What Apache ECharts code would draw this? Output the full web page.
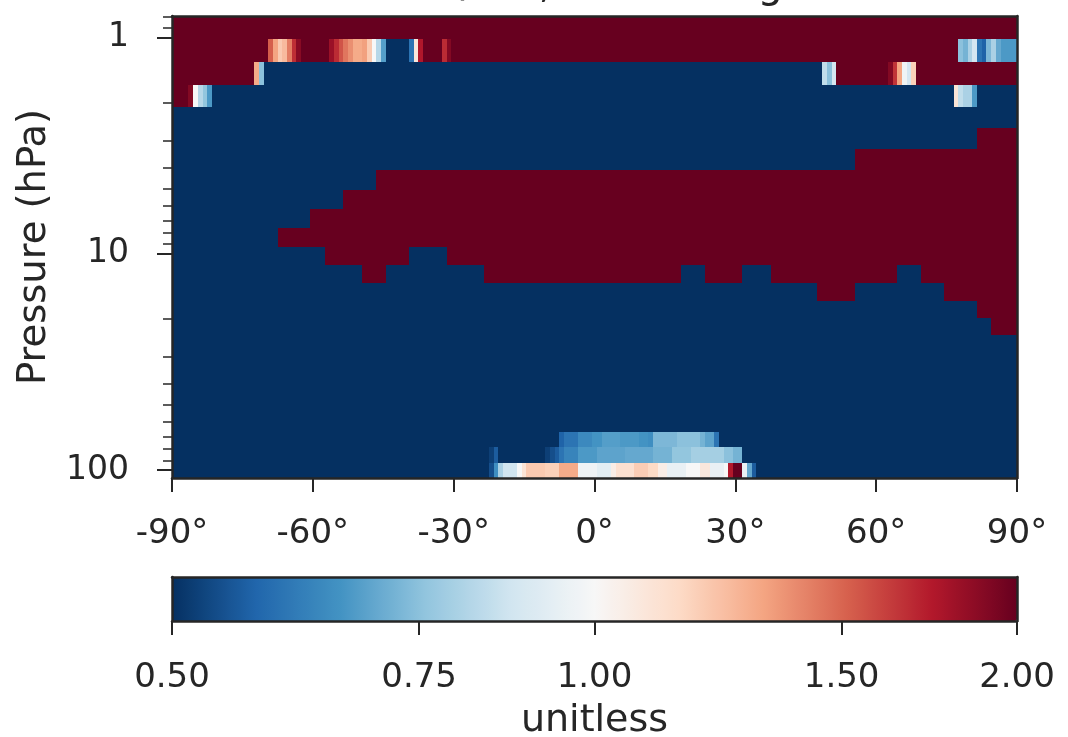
<!DOCTYPE html>
<html><head><meta charset="utf-8">
<script src="https://cdn.jsdelivr.net/npm/echarts@6/dist/echarts.min.js"></script>
<style>html,body{margin:0;padding:0;background:#fff}#c{width:1068px;height:737px}</style>
</head><body><div id="c"></div>
<script>
// Pressure level edges (hPa), top to bottom
const pressureEdges = [0.7951, 1.0194, 1.3005, 1.6508, 2.0850, 2.6202, 3.2764, 4.0766, 5.0468, 6.2168, 7.6198, 9.2929, 11.2769, 13.6434, 16.4571, 19.7916, 23.7304, 28.3678, 33.8100, 40.1754, 47.6439, 56.3879, 66.6034, 78.5123, 92.3657, 108.663];

// Each row: runs of [latFrom, latTo, Dev/Ref ratio]
const row00 = [[-90, 90, 2.0]];
const row01 = [[-90,-69.5,2],[-69.5,-68.5,1.52],[-68.5,-67.5,1.32],[-67.5,-66.5,1.2],[-66.5,-65.5,1.25],[-65.5,-64.5,1.43],[-64.5,-63.5,1.67],[-63.5,-62.5,1.88],[-62.5,-56.5,2],[-56.5,-55.5,1.82],[-55.5,-54.5,1.68],[-54.5,-53.5,1.55],[-53.5,-52.5,1.45],[-52.5,-51.5,1.38],[-51.5,-49.5,1.3],[-49.5,-48.5,1.33],[-48.5,-47.5,1.2],[-47.5,-46.5,1.0],[-46.5,-45.5,0.82],[-45.5,-44.5,0.68],[-44.5,-39.5,0.5],[-39.5,-38.5,0.6],[-38.5,-37.5,1.08],[-37.5,-36.5,1.75],[-36.5,-32.5,2],[-32.5,-31.5,1.68],[-31.5,-30.5,1.9],[-30.5,77.5,2],[77.5,78.5,0.75],[78.5,79.5,0.72],[79.5,80.5,0.8],[80.5,81.5,0.88],[81.5,82.5,0.6],[82.5,83.5,0.57],[83.5,84.5,0.73],[84.5,85.5,0.8],[85.5,86.5,0.7],[86.5,90,0.67]];
const row02 = [[-90,-72.5,2],[-72.5,-71.5,1.3],[-71.5,-70.5,0.75],[-70.5,48.5,0.5],[48.5,49.5,0.84],[49.5,50.5,0.75],[50.5,51.5,0.88],[51.5,62.5,2],[62.5,63.5,1.9],[63.5,64.5,1.65],[64.5,65.5,1.32],[65.5,66.5,0.97],[66.5,67.5,0.88],[67.5,68.5,1.18],[68.5,90,2]];
const row03 = [[-90,-86.5,2],[-86.5,-85.5,1.9],[-85.5,-84.5,1.0],[-84.5,-83.5,0.82],[-83.5,-82.5,0.76],[-82.5,-81.5,0.67],[-81.5,76.5,0.5],[76.5,77.5,1.1],[77.5,78.5,0.84],[78.5,80.5,0.8],[80.5,81.5,0.67],[81.5,90,0.5]];
const row04 = [[-90,90,0.5]];
const row05 = [[-90,81.5,0.5],[81.5,90,2]];
const row06 = [[-90,55.5,0.5],[55.5,90,2]];
const row07 = [[-90,-46.5,0.5],[-46.5,90,2]];
const row08 = [[-90,-53.5,0.5],[-53.5,90,2]];
const row09 = [[-90,-60.5,0.5],[-60.5,90,2]];
const row10 = [[-90,-67.5,0.5],[-67.5,90,2]];
const row11 = [[-90,-57.5,0.5],[-57.5,-39.5,2],[-39.5,-31.5,0.5],[-31.5,90,2]];
const row12 = [[-90,-49.5,0.5],[-49.5,-44.5,2],[-44.5,-23.5,0.5],[-23.5,18.5,2],[18.5,23.5,0.5],[23.5,31.5,2],[31.5,37.5,0.5],[37.5,64.5,2],[64.5,69.5,0.5],[69.5,90,2]];
const row13 = [[-90,47.5,0.5],[47.5,55.5,2],[55.5,74.5,0.5],[74.5,90,2]];
const row14 = [[-90,81.5,0.5],[81.5,90,2]];
const row15 = [[-90,84.5,0.5],[84.5,90,2]];
const row16 = [[-90,90,0.5]];
const row17 = [[-90,90,0.5]];
const row18 = [[-90,90,0.5]];
const row19 = [[-90,90,0.5]];
const row20 = [[-90,90,0.5]];
const row21 = [[-90,90,0.5]];
const row22 = [[-90,-7.5,0.5],[-7.5,-6.5,0.57],[-6.5,-3.5,0.6],[-3.5,-0.5,0.64],[-0.5,1.5,0.66],[1.5,5.5,0.68],[5.5,9.5,0.67],[9.5,11.5,0.66],[11.5,12.5,0.65],[12.5,17.5,0.73],[17.5,22.5,0.75],[22.5,23.5,0.72],[23.5,25.5,0.69],[25.5,26.5,0.6],[26.5,90,0.5]];
const row23 = [[-90,-22.5,0.5],[-22.5,-21.5,0.52],[-21.5,-20.5,0.56],[-20.5,-10.5,0.5],[-10.5,-9.5,0.52],[-9.5,-8.5,0.54],[-8.5,-7.5,0.56],[-7.5,-6.5,0.6],[-6.5,-3.5,0.63],[-3.5,0.5,0.67],[0.5,6.5,0.69],[6.5,12.5,0.7],[12.5,16.5,0.72],[16.5,20.5,0.76],[20.5,27.5,0.79],[27.5,29.5,0.75],[29.5,31.5,0.72],[31.5,90,0.5]];
const row24 = [[-90,-22.5,0.5],[-22.5,-21.5,0.54],[-21.5,-20.5,0.65],[-20.5,-19.5,0.8],[-19.5,-16.5,0.87],[-16.5,-15.5,1.0],[-15.5,-14.5,1.1],[-14.5,-10.5,1.2],[-10.5,-7.5,1.18],[-7.5,-3.5,1.3],[-3.5,0.5,0.97],[0.5,3.5,0.93],[3.5,4.5,1.05],[4.5,8.5,1.12],[8.5,11.5,1.19],[11.5,13.5,1.15],[13.5,15.5,1.05],[15.5,19.5,0.95],[19.5,22.5,1.0],[22.5,24.5,1.08],[24.5,27.5,0.95],[27.5,28.5,1.0],[28.5,29.5,1.74],[29.5,31.5,2.0],[31.5,32.5,0.95],[32.5,33.5,0.7],[33.5,34.5,0.56],[34.5,90,0.5]];
const rows = [row00,row01,row02,row03,row04,row05,row06,row07,row08,row09,row10,row11,row12,row13,row14,row15,row16,row17,row18,row19,row20,row21,row22,row23,row24];

const xTicks = [-90, -60, -30, 0, 30, 60, 90];
const yMajorTicks = [1, 10, 100];
const yMinorTicks = [0.8, 0.9, 2, 3, 4, 5, 6, 7, 8, 9, 20, 30, 40, 50, 60, 70, 80, 90];
const cbarTicks = [0.5, 0.75, 1.0, 1.5, 2.0];
const cbarMin = 0.5, cbarMax = 2.0;
const rdbuR = ['#053061','#2166ac','#4393c3','#92c5de','#d1e5f0','#f7f7f7','#fddbc7','#f4a582','#d6604d','#b2182b','#67001f'];

const norm = v => Math.max(0, Math.min(1, Math.log(v / cbarMin) / Math.log(cbarMax / cbarMin)));
const cells = [];
rows.forEach((runs, i) => {
  runs.forEach(([a, b, v]) => cells.push([a, b, pressureEdges[i], pressureEdges[i + 1], norm(v), v]));
});

const TXT = '#262626';
const FONT = 'DejaVu Sans';
const lineOnly = { show: true, onZero: false, lineStyle: { color: TXT, width: 2.5 } };
const noLine = { show: false, onZero: false };
const pMin = pressureEdges[0], pMax = pressureEdges[pressureEdges.length - 1];

const chart = echarts.init(document.getElementById('c'), null, { renderer: 'canvas' });
chart.setOption({
  animation: false,
  backgroundColor: '#ffffff',
  textStyle: { fontFamily: FONT, color: TXT },
  graphic: [{
    type: 'text', x: 594.5, y: 7, z: 100,
    style: { text: 'Dev/Ref, Fixed Range', fontSize: 40, fontFamily: FONT, fill: TXT, align: 'center', verticalAlign: 'bottom' }
  }],
  grid: [
    { left: 172, top: 16, width: 845, height: 462, outerBoundsMode: 'none', containLabel: false },
    { left: 172, top: 577, width: 845, height: 44, outerBoundsMode: 'none', containLabel: false }
  ],
  xAxis: [
    { gridIndex: 0, type: 'value', min: -90, max: 90, interval: 30, position: 'bottom', z: 10,
      axisLine: lineOnly, splitLine: { show: false },
      axisTick: { show: true, length: 14, lineStyle: { color: TXT, width: 2 } },
      axisLabel: { show: true, margin: 39, fontSize: 34, fontFamily: FONT, color: TXT, showMinLabel: true, showMaxLabel: true,
        customValues: xTicks, formatter: v => v + '°' } },
    { gridIndex: 0, type: 'value', min: -90, max: 90, position: 'top', z: 10,
      axisLine: lineOnly, axisTick: { show: false }, axisLabel: { show: false }, splitLine: { show: false } },
    { gridIndex: 1, type: 'value', min: 0, max: 1, position: 'bottom', z: 10,
      axisLine: lineOnly, splitLine: { show: false },
      axisTick: { show: true, length: 14, lineStyle: { color: TXT, width: 2 }, customValues: cbarTicks.map(norm) },
      axisLabel: { show: true, margin: 40, fontSize: 34, fontFamily: FONT, color: TXT, showMinLabel: true, showMaxLabel: true,
        customValues: cbarTicks.map(norm),
        formatter: t => (cbarMin * Math.pow(cbarMax / cbarMin, t)).toFixed(2) },
      name: 'unitless', nameLocation: 'middle', nameGap: 81,
      nameTextStyle: { fontSize: 38, fontFamily: FONT, color: TXT } },
    { gridIndex: 1, type: 'value', min: 0, max: 1, position: 'top', z: 10,
      axisLine: lineOnly, axisTick: { show: false }, axisLabel: { show: false }, splitLine: { show: false } }
  ],
  yAxis: [
    { gridIndex: 0, type: 'log', logBase: 10, min: pMin, max: pMax, inverse: true, position: 'left', z: 10,
      axisLine: lineOnly, splitLine: { show: false }, minorTick: { show: false },
      axisTick: { show: true, length: 15, lineStyle: { color: TXT, width: 2 }, customValues: yMajorTicks },
      axisLabel: { show: true, margin: 43, fontSize: 33, fontFamily: FONT, color: TXT, customValues: yMajorTicks, formatter: v => String(Math.round(v)) },
      name: 'Pressure (hPa)', nameLocation: 'middle', nameGap: 118, nameRotate: 90,
      nameTextStyle: { fontSize: 38.5, fontFamily: FONT, color: TXT } },
    { gridIndex: 0, type: 'log', logBase: 10, min: pMin, max: pMax, inverse: true, position: 'left', z: 10,
      axisLine: noLine, splitLine: { show: false }, axisLabel: { show: false },
      axisTick: { show: true, length: 9, lineStyle: { color: TXT, width: 1.5 }, customValues: yMinorTicks } },
    { gridIndex: 0, type: 'log', logBase: 10, min: pMin, max: pMax, inverse: true, position: 'right', z: 10,
      axisLine: lineOnly, axisTick: { show: false }, axisLabel: { show: false }, splitLine: { show: false } },
    { gridIndex: 1, type: 'value', min: 0, max: 1, position: 'left', z: 10,
      axisLine: lineOnly, axisTick: { show: false }, axisLabel: { show: false }, splitLine: { show: false } },
    { gridIndex: 1, type: 'value', min: 0, max: 1, position: 'right', z: 10,
      axisLine: lineOnly, axisTick: { show: false }, axisLabel: { show: false }, splitLine: { show: false } }
  ],
  visualMap: [{
    type: 'continuous', min: 0, max: 1, dimension: 4, seriesIndex: 0,
    orient: 'horizontal', left: 172, top: 577, itemWidth: 44, itemHeight: 845, padding: 0,
    calculable: false, hoverLink: false, showLabel: false, text: null,
    inRange: { color: rdbuR }, outOfRange: { color: rdbuR }
  }],
  series: [{
    type: 'custom', xAxisIndex: 0, yAxisIndex: 0, clip: true,
    dimensions: ['lat0', 'lat1', 'pTop', 'pBot', 'norm', 'ratio'],
    encode: { x: [0, 1], y: [2, 3] },
    data: cells,
    renderItem: (params, api) => {
      const a = api.coord([api.value(0), api.value(2)]);
      const b = api.coord([api.value(1), api.value(3)]);
      const x0 = Math.round(Math.min(a[0], b[0])), x1 = Math.round(Math.max(a[0], b[0]));
      const y0 = Math.round(Math.min(a[1], b[1])), y1 = Math.round(Math.max(a[1], b[1]));
      return { type: 'rect', shape: { x: x0, y: y0, width: x1 - x0, height: y1 - y0 }, style: { fill: api.visual('color') } };
    }
  }]
});
</script></body></html>
